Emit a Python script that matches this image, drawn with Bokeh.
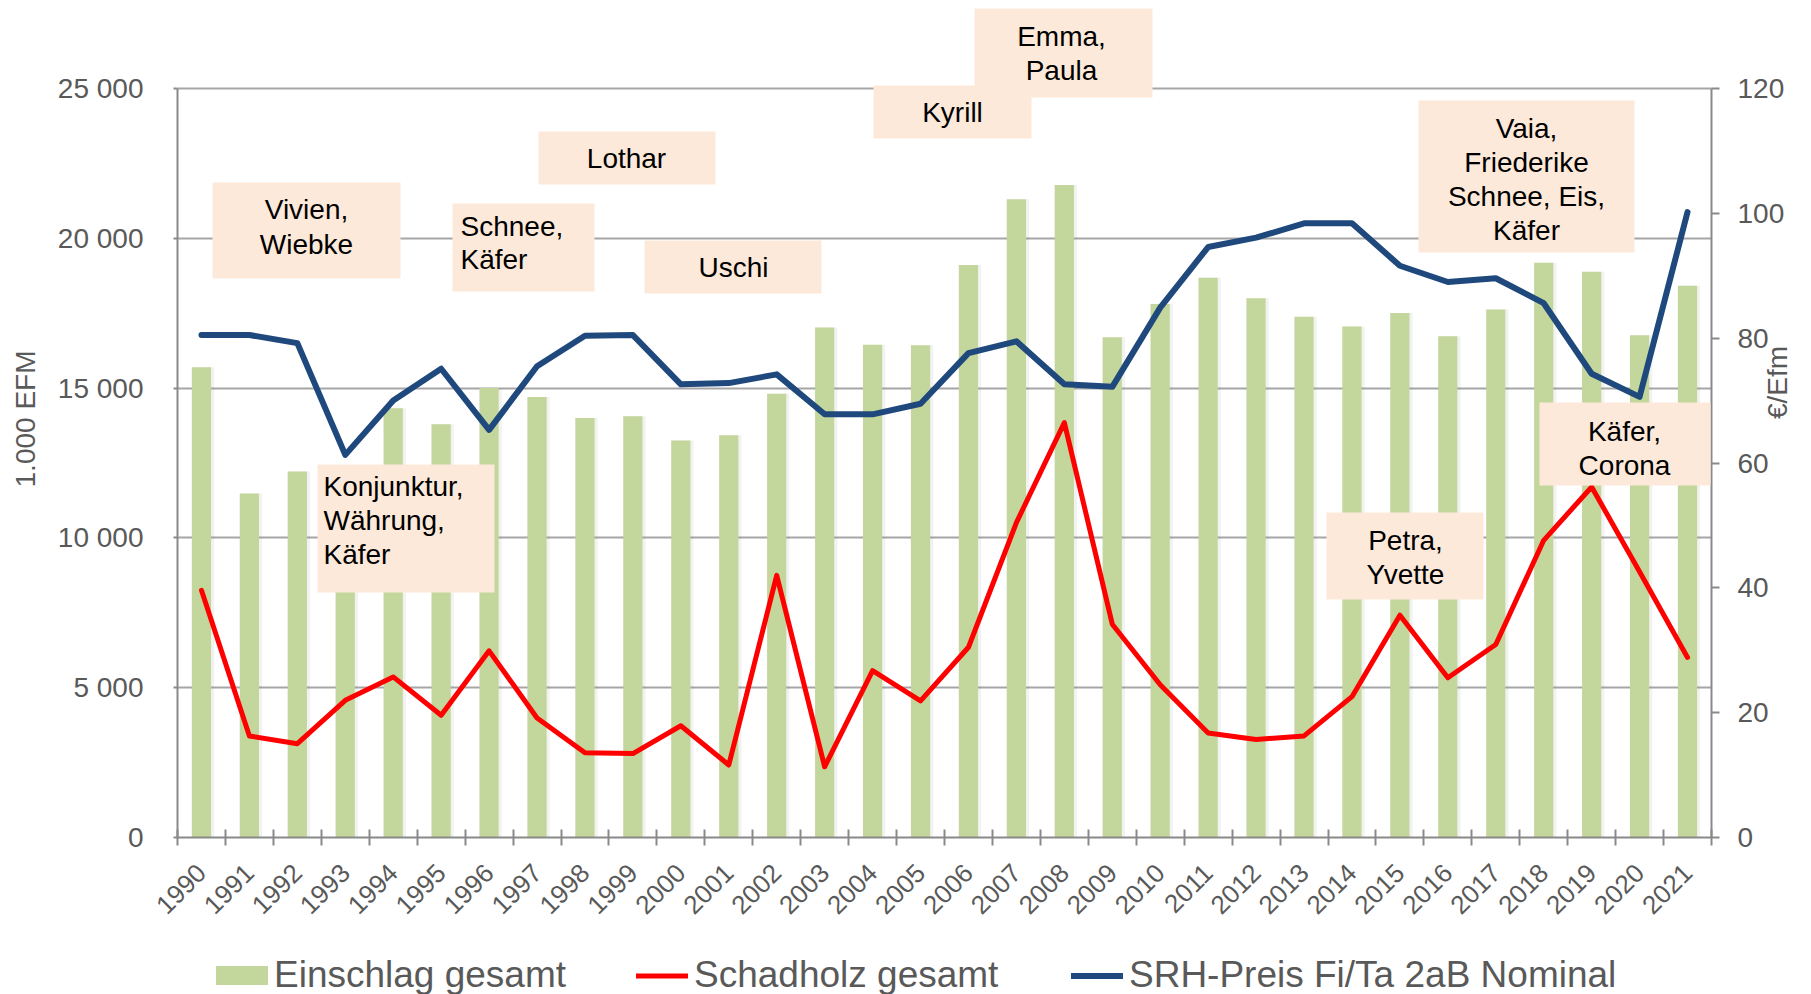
import math
from bokeh.plotting import figure
from bokeh.layouts import column
from bokeh.models import (Range1d, LinearAxis, FixedTicker, Legend, LegendItem,
                          BoxAnnotation, Label, ColumnDataSource)
from bokeh.transform import dodge
from bokeh.embed import file_html
from bokeh.resources import INLINE

# ---------------- data ----------------
years = list(range(1990, 2022))
einschlag = [15700, 11480, 12220, 11000, 14330, 13790, 15000, 14700, 14000, 14060,
             13250, 13430, 14810, 17020, 16450, 16430, 19110, 21300, 21780, 16700,
             17810, 18680, 18000, 17380, 17060, 17510, 16730, 17620, 19180, 18880,
             16760, 18420]
schadholz = [8250, 3390, 3130, 4580, 5360, 4080, 6230, 3990, 2830, 2800,
             3730, 2420, 8750, 2360, 5570, 4560, 6350, 10510, 13850, 7120,
             5100, 3490, 3270, 3390, 4700, 7420, 5330, 6440, 9920, 11700,
             8870, 6010]
preis = [80.5, 80.5, 79.2, 61.3, 70.0, 75.1, 65.3, 75.5, 80.4, 80.5,
         72.6, 72.8, 74.2, 67.8, 67.8, 69.5, 77.6, 79.5, 72.6, 72.2,
         84.9, 94.6, 96.1, 98.4, 98.4, 91.6, 89.0, 89.6, 85.6, 74.3,
         70.6, 100.2]
left_ticks = [0, 5000, 10000, 15000, 20000, 25000]
left_tick_labels = ["0", "5 000", "10 000", "15 000", "20 000", "25 000"]
right_ticks = [0, 20, 40, 60, 80, 100, 120]
series_names = ["Einschlag gesamt", "Schadholz gesamt", "SRH-Preis Fi/Ta 2aB Nominal"]
left_title = "1.000 EFM"
right_title = "€/Efm"
event_texts = [
    ["Vivien,", "Wiebke"],
    ["Lothar"],
    ["Schnee,", "Käfer"],
    ["Uschi"],
    ["Kyrill"],
    ["Emma,", "Paula"],
    ["Vaia,", "Friederike", "Schnee, Eis,", "Käfer"],
    ["Konjunktur,", "Währung,", "Käfer"],
    ["Petra,", "Yvette"],
    ["Käfer,", "Corona"],
]

# ---------------- layout (page pixels) ----------------
W = 1811
H_MAIN, H_LEG = 940, 54
FL, FT, FR, FB = 177, 88, 1713, 837   # plot area of the original chart

# event boxes: (x1, y1, x2, y2), text anchor x, align, first line y, line step
event_boxes = [
    ((212, 182, 400, 278), 306, "center", 209, 35),
    ((538, 131, 715, 184), 626, "center", 158, 34),
    ((452, 203, 594, 291), 460, "left", 226, 33),
    ((644, 240, 821, 293), 733, "center", 267, 34),
    ((873, 85, 1031, 138), 952, "center", 112, 34),
    ((974, 8, 1152, 97), 1061, "center", 36, 34),
    ((1418, 100, 1634, 252), 1526, "center", 128, 34),
    ((317, 464, 494, 592), 323, "left", 486, 34),
    ((1326, 512, 1483, 599), 1405, "center", 540, 34),
    ((1539, 402, 1710, 485), 1624, "center", 431, 34),
]
# legend entries: (glyph area left, glyph width, glyph height, label standoff)
legend_slots = [(209, 65, 24, 0), (636, 52, 19, 6), (1071, 52, 19, 6)]

FONT = "Liberation Sans"
GRAY_TXT = "#595959"
AXIS_COL = "#898989"
GRID_COL = "#A6A6A6"
BAR_COL = "#C3D69B"
RED = "#FF0000"
BLUE = "#1F497D"
BOX_FILL = "#FDE9D9"

# frame runs from the canvas top down to the x axis so that the boxes above
# the plot area are not clipped; the ranges are extended accordingly
L_MAX, R_MAX = 25000, 120
ext = FB / (FB - FT)


def sx(x):
    return x - FL


def sy(y):
    return FB - y


src = ColumnDataSource(data=dict(year=years, einschlag=einschlag,
                                 schadholz=schadholz, preis=preis))

p = figure(width=W, height=H_MAIN, output_backend="svg", toolbar_location=None,
           x_range=Range1d(1989.5, 2021.5), y_range=Range1d(0, L_MAX * ext),
           min_border_left=FL, min_border_top=0,
           min_border_right=W - FR, min_border_bottom=H_MAIN - FB)
p.extra_y_ranges = {"price": Range1d(0, R_MAX * ext)}
p.background_fill_color = "white"
p.border_fill_color = "white"
p.outline_line_color = None

bars_style = dict(width=0.4, fill_color=BAR_COL, line_color=None)
red_style = dict(line_color=RED, line_width=5, line_join="round", line_cap="round")
blue_style = dict(line_color=BLUE, line_width=6, line_join="round", line_cap="round")

# soft shadow behind the bars
p.vbar(x=dodge("year", 0.03, range=p.x_range), top="einschlag", source=src,
       width=0.47, fill_color="#7F7F7F", fill_alpha=0.10, line_color=None)
p.vbar(x="year", top="einschlag", source=src, **bars_style)
p.line("year", "schadholz", source=src, **red_style)
p.line("year", "preis", source=src, y_range_name="price", **blue_style)

# x axis
xa = p.xaxis[0]
xa.ticker = FixedTicker(ticks=years, minor_ticks=[y - 0.5 for y in years] + [years[-1] + 0.5])
xa.major_tick_line_color = None
xa.major_tick_in = 0
xa.major_tick_out = 8
xa.minor_tick_in = 8
xa.minor_tick_out = 8
xa.minor_tick_line_color = AXIS_COL
xa.minor_tick_line_width = 2
xa.axis_line_color = AXIS_COL
xa.axis_line_width = 2
xa.major_label_orientation = math.pi / 4
xa.major_label_text_font = FONT
xa.major_label_text_font_size = "26px"
xa.major_label_text_color = GRAY_TXT
xa.major_label_standoff = 23

# left axis
ya = p.yaxis[0]
ya.bounds = (0, L_MAX)
ya.ticker = FixedTicker(ticks=left_ticks, minor_ticks=[])
ya.major_label_overrides = {t: l for t, l in zip(left_ticks, left_tick_labels)}
ya.major_tick_in = 0
ya.major_tick_out = 4
ya.major_tick_line_color = AXIS_COL
ya.major_tick_line_width = 2
ya.minor_tick_line_color = None
ya.axis_line_color = AXIS_COL
ya.axis_line_width = 2
ya.major_label_text_font = FONT
ya.major_label_text_font_size = "28px"
ya.major_label_text_color = GRAY_TXT
ya.major_label_standoff = 30
ya.axis_label = left_title
ya.axis_label_text_font = FONT
ya.axis_label_text_font_size = "28px"
ya.axis_label_text_font_style = "normal"
ya.axis_label_text_color = GRAY_TXT
ya.axis_label_standoff = 14

# right axis
ra = LinearAxis(y_range_name="price", bounds=(0, R_MAX),
                ticker=FixedTicker(ticks=right_ticks, minor_ticks=[]))
ra.major_tick_in = 0
ra.major_tick_out = 8
ra.major_tick_line_color = AXIS_COL
ra.major_tick_line_width = 2
ra.minor_tick_line_color = None
ra.axis_line_color = AXIS_COL
ra.axis_line_width = 2
ra.major_label_text_font = FONT
ra.major_label_text_font_size = "28px"
ra.major_label_text_color = GRAY_TXT
ra.major_label_standoff = 18
ra.axis_label = right_title
ra.axis_label_text_font = FONT
ra.axis_label_text_font_size = "28px"
ra.axis_label_text_font_style = "normal"
ra.axis_label_text_color = GRAY_TXT
ra.axis_label_standoff = -10
if "axis_label_orientation" in ra.properties():
    ra.axis_label_orientation = math.pi / 2
p.add_layout(ra, "right")

p.xgrid.grid_line_color = None
p.ygrid.ticker = FixedTicker(ticks=left_ticks)
p.ygrid.grid_line_color = GRID_COL
p.ygrid.grid_line_width = 2

# event boxes
for (box, tx, align, ty0, step), lines in zip(event_boxes, event_texts):
    x1, y1, x2, y2 = box
    p.add_layout(BoxAnnotation(left=sx(x1), right=sx(x2), top=sy(y1), bottom=sy(y2),
                               left_units="screen", right_units="screen",
                               top_units="screen", bottom_units="screen",
                               fill_color=BOX_FILL, fill_alpha=1.0, line_color=None,
                               level="annotation"))
    for i, line in enumerate(lines):
        p.add_layout(Label(x=sx(tx), y=sy(ty0 + i * step), x_units="screen",
                           y_units="screen", text=line, text_align=align,
                           text_baseline="middle", text_font=FONT,
                           text_font_size="28px", text_color="black"))

# legend strip below the chart; its frame is aligned with the chart's frame.
# The series are attached there as hidden renderers, only so that the legend
# has glyphs to show.
pl = figure(width=W, height=H_LEG, output_backend="svg", toolbar_location=None,
            x_range=Range1d(1989.5, 2021.5), y_range=Range1d(0, L_MAX),
            x_axis_type=None, y_axis_type=None, min_border=0)
pl.outline_line_color = None
pl.background_fill_color = "white"
pl.border_fill_color = "white"
lb = pl.vbar(x="year", top="einschlag", source=src, **bars_style)
lr = pl.line("year", "schadholz", source=src, **red_style)
lbl = pl.line("year", "schadholz", source=src, **blue_style)
for r in (lb, lr, lbl):
    r.visible = False

for (gx, gw, gh, gs), name, r in zip(legend_slots, series_names, [lb, lr, lbl]):
    lg = Legend(items=[LegendItem(label=name, renderers=[r])],
                location=(gx - FL, -2), orientation="horizontal",
                glyph_width=gw, glyph_height=gh, label_standoff=gs,
                padding=0, margin=0, spacing=0,
                border_line_color=None, background_fill_alpha=0,
                label_text_font=FONT, label_text_font_size="37px",
                label_text_color=GRAY_TXT)
    pl.add_layout(lg, "center")

layout = column(p, pl, spacing=0)
open("out.html", "w").write(file_html(layout, INLINE))
